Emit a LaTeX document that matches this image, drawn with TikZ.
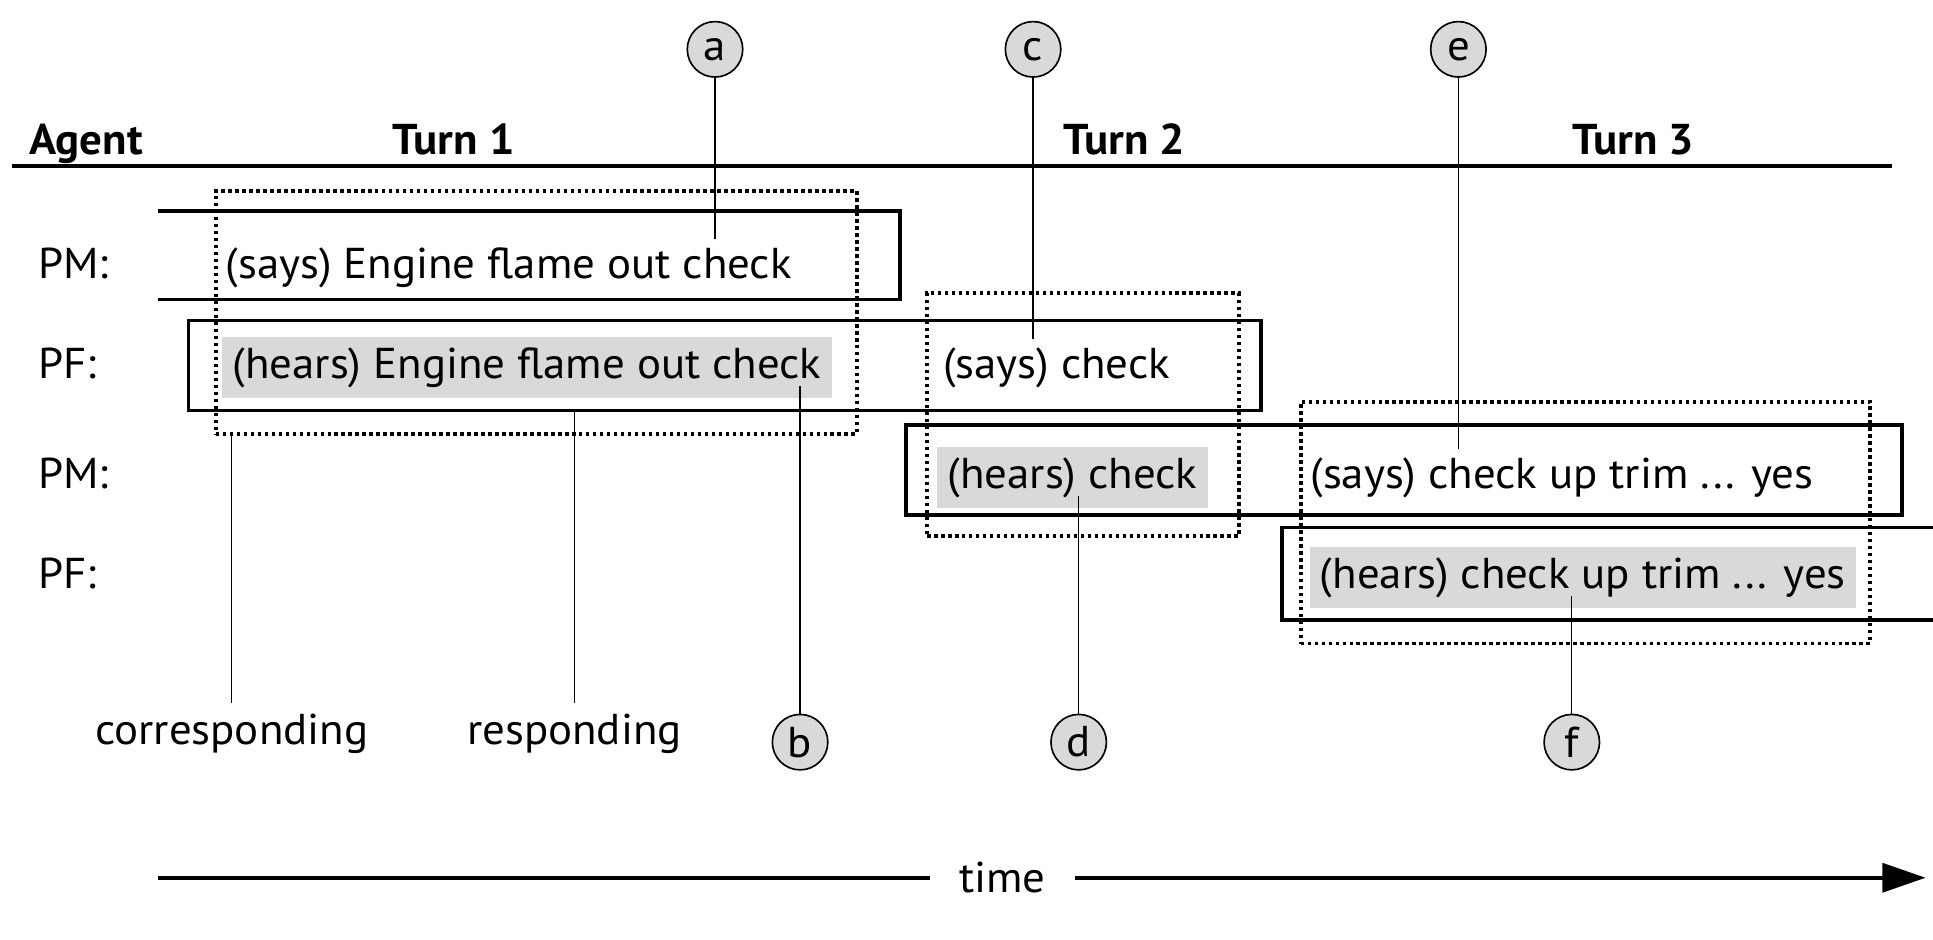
\documentclass[tikz,border=0pt]{standalone}
\usepackage{fontspec}
\setmainfont{PT Sans}[FakeStretch=1.04]
\usepackage{tikz}
\usetikzlibrary{arrows.meta,calc,fit}
\usetikzlibrary{positioning}
\tikzset{tag/.style={circle,draw,fill=black!15,line width=0.8pt,minimum size=27pt,inner sep=0pt},
  heard/.style={fill=black!15,inner xsep=5pt,inner ysep=5pt,anchor=base west},
  said/.style={inner sep=4pt,anchor=base west},
  who/.style={anchor=base west},
  turnbox/.style={draw,line width=1.8pt,inner sep=0pt},
  pairbox/.style={draw,line width=1.9pt,dash pattern=on 1.7pt off 1.7pt,inner sep=0pt},
  conn/.style={line width=0.6pt}}

\begin{document}
\begin{tikzpicture}[x=0.6pt,y=-0.6pt,>=Stealth,line join=miter,font=\fontsize{21}{25}\selectfont]
\useasboundingbox (0,0) rectangle (1568,762);
% --- header row
\node[who,font=\fontsize{21}{25}\selectfont\bfseries] (agent) at (18,125) {Agent};
\node[anchor=base,font=\fontsize{21}{25}\selectfont\bfseries] (turn1) at (368,125) {Turn 1};
\node[anchor=base,font=\fontsize{21}{25}\selectfont\bfseries] (turn2) at (912,125) {Turn 2};
\node[anchor=base,font=\fontsize{21}{25}\selectfont\bfseries] (turn3) at (1325,125) {Turn 3};
\draw[line width=1.9pt] (10,135) -- (1535,135);
% --- agents
\node[who] (pm1) at (25,226) {PM:};
\node[who] (pf1) at (25,307) {PF:};
\node[who] (pm2) at (25,396) {PM:};
\node[who] (pf2) at (25,477) {PF:};
% --- utterances
\node[said] (s1) at (176,226) {(says) Engine flame out check};
\node[heard] (h1) at (180,307) {(hears) Engine flame out check};
\node[said] (s2) at (758,307) {(says) check};
\node[heard] (h2) at (760,396) {(hears) check};
\node[said] (s3) at (1056,396) {(says) check up trim ... yes};
\node[heard] (h3) at (1062,477) {(hears) check up trim ... yes};
% --- turn boxes
\draw[line width=1.8pt] (128,171) -- (730,171) -- (730,243) -- (128,243);
\node[turnbox,fit={(153,260) (1023,333)}] (pfbox1) {};
\node[turnbox,fit={(735,345) (1543,418)}] (pmbox2) {};
\draw[line width=1.8pt] (1568,428) -- (1040,428) -- (1040,503) -- (1568,503);
% --- adjacency pairs
\node[pairbox,fit={(175,155) (695,352)}] (pair1) {};
\node[pairbox,fit={(752,238) (1005,435)}] (pair2) {};
\node[pairbox,fit={(1055,326) (1517,522)}] (pair3) {};
% --- tags
\node[tag] (a) at (580,40) {a};
\node[tag] (c) at (838,40) {c};
\node[tag] (e) at (1183,40) {e};
\node[tag] (b) at (649,602) {b};
\node[tag] (d) at (875,602) {d};
\node[tag] (f) at (1275,602) {f};
\draw[conn] (a) -- (a |- s1.north);
\draw[conn] (c) -- (c |- s2.north);
\draw[conn] (e) -- (e |- s3.north);
\draw[conn] (b) -- ($(b |- h1.south)+(0,-10)$);
\draw[conn] (d) -- ($(d |- h2.south)+(0,-10)$);
\draw[conn] (f) -- ($(f |- h3.south)+(0,-10)$);
\node[anchor=base] (corr) at (188,604) {corresponding};
\node[anchor=base] (resp) at (466,604) {responding};
\draw[conn] ([yshift=2pt]corr.north) -- (corr.north |- pair1.south);
\draw[conn] ([yshift=2pt]resp.north) -- (resp.north |- pfbox1.south);
% --- time axis
\node[inner xsep=14pt] (time) at (813,712) {time};
\coordinate (t0) at (128,712);
\coordinate (t1) at (1562,712);
\draw[line width=1.9pt] (t0) -- (time.west);
\draw[line width=1.9pt,-{Triangle[length=21pt,width=14pt]}] (time.east) -- (t1);
\end{tikzpicture}
\end{document}
